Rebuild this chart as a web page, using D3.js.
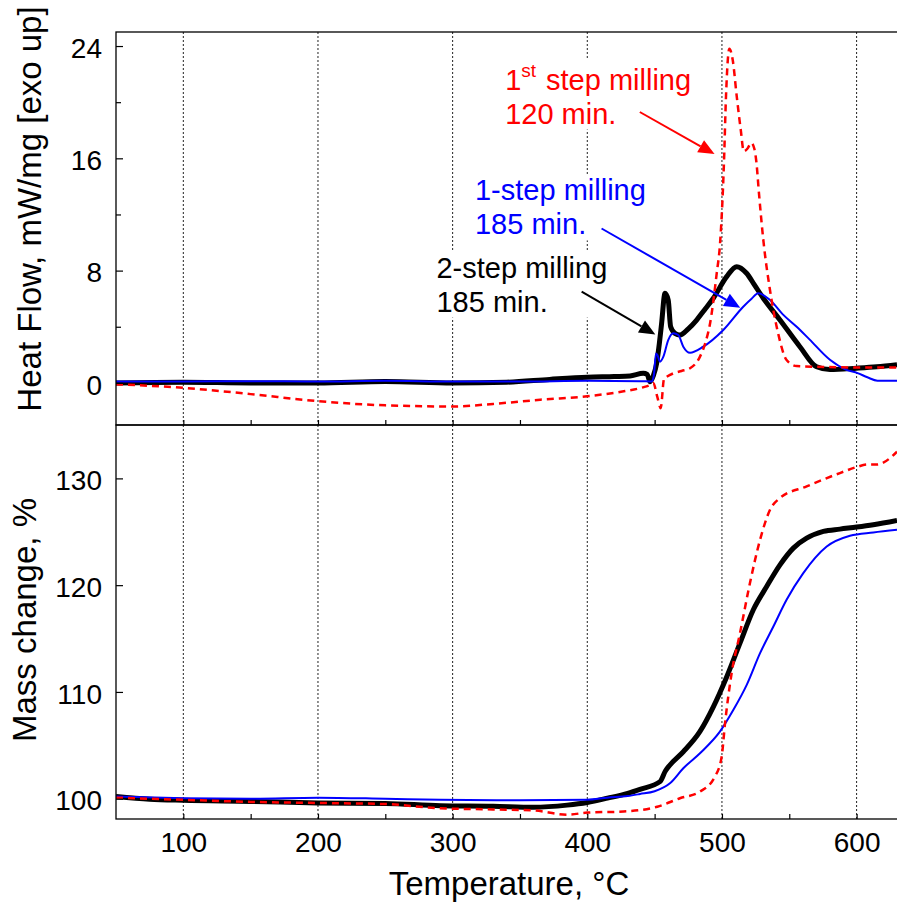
<!DOCTYPE html>
<html>
<head>
<meta charset="utf-8">
<script src="https://cdn.jsdelivr.net/npm/d3@7/dist/d3.min.js"></script>
<style>
  body { margin: 0; background: #fff; }
  text { font-family: "Liberation Sans", Arial, sans-serif; }
</style>
</head>
<body>
<div id="chart"></div>
<script>
// DSC (upper panel) — heat flow, mW/mg
const dscTempBlack = [50, 100, 150, 200, 250, 300, 340, 372, 400, 420, 431.7, 441.6, 444.5, 446.6, 449, 451.5, 453.5, 455.2, 457.7, 460.1, 461.9, 465.1, 468.8, 475, 481.2, 487, 493.6, 503.5, 510.9, 518.3, 524, 530.7, 543.1, 557.9, 570.3, 580.2, 600, 615, 630];
const dscBlack     = [0.0, 0.05, 0.0, 0.0, 0.1, 0.0, 0.05, 0.25, 0.4, 0.45, 0.49, 0.68, 0.6, 0.08, 0.5, 1.39, 2.8, 4.25, 6.38, 5.9, 4.0, 3.53, 3.41, 3.85, 4.48, 5.2, 6.03, 7.57, 8.28, 7.81, 7.0, 6.03, 4.48, 2.58, 1.15, 0.95, 1.05, 1.15, 1.3];

const dscTempBlue = [50, 100, 150, 200, 250, 300, 350, 400, 440, 447.8, 449.5, 451, 452, 454, 456.5, 460.1, 463.9, 467.6, 471.3, 476.3, 486.1, 501, 515.8, 522, 527, 535.7, 545, 555.5, 565, 580.2, 592, 600.7, 608, 615.5, 630];
const dscBlue     = [0.1, 0.1, 0.12, 0.1, 0.15, 0.1, 0.1, 0.15, 0.12, 0.1, 0.6, 2.1, 2.0, 1.51, 1.87, 3.05, 3.53, 3.41, 2.58, 2.15, 2.58, 3.77, 5.43, 6.0, 6.38, 5.9, 4.9, 4.0, 3.1, 1.65, 0.95, 0.7, 0.4, 0.16, 0.16];

const dscTempRed = [50, 100, 150, 200, 250, 300, 330, 365, 400, 427, 442, 446.6, 449, 452, 454.5, 457, 459, 463.9, 470, 476.3, 483.7, 487.5, 491.2, 496.1, 498.6, 501.5, 503, 505.5, 508, 511, 514, 516.2, 519, 521.8, 524, 525.5, 527.5, 530.7, 535.7, 541.8, 548, 555.5, 570, 600, 630];
const dscRed     = [-0.1, -0.35, -0.8, -1.3, -1.6, -1.68, -1.5, -1.2, -0.95, -0.6, -0.3, -0.15, 0.0, -1.0, -1.8, 0.3, 0.44, 0.68, 0.85, 1.04, 1.87, 2.8, 4.25, 7.8, 9.95, 15.7, 20.4, 23.8, 23.0, 20.4, 18.0, 16.5, 16.7, 17.1, 16.7, 15.8, 13.5, 10.2, 6.6, 3.5, 1.63, 1.2, 1.15, 1.1, 1.1];

// TG (lower panel) — mass change, %
const tgTempBlack = [50, 75, 100, 150, 200, 250, 291, 330, 360, 385, 400, 415, 430, 439.1, 454, 458, 461.4, 471.3, 483.7, 493.6, 503.5, 513.4, 523.3, 533.2, 543.1, 553, 562.9, 575.3, 587.6, 600, 612.4, 630];
const tgBlack     = [100.2, 99.95, 99.85, 99.75, 99.6, 99.55, 99.35, 99.3, 99.2, 99.4, 99.65, 100.05, 100.5, 100.88, 101.6, 102.6, 103.16, 104.4, 106.3, 108.6, 111.4, 114.57, 117.7, 119.87, 121.9, 123.47, 124.4, 125.03, 125.25, 125.44, 125.66, 126.06];

const tgTempBlue = [50, 100, 150, 200, 250, 291, 350, 400, 414.8, 430, 439.1, 450, 461.4, 471.3, 483.7, 498.6, 508.4, 518.4, 528.3, 538.1, 548, 560.4, 577.8, 595.1, 612.4, 630];
const tgBlue     = [100.2, 100.05, 100.0, 100.1, 100.0, 99.9, 99.85, 99.9, 100.1, 100.25, 100.44, 100.7, 101.44, 102.85, 104.26, 106.3, 108.3, 110.66, 113.63, 116.1, 118.63, 121.13, 123.62, 124.63, 124.94, 125.19];

const tgTempRed = [50, 100, 150, 200, 250, 291, 330, 360, 385, 400, 427, 452, 468.8, 483.7, 494.8, 499.8, 502.3, 507.2, 513.4, 520.8, 528.3, 535.7, 543.1, 562.9, 587.6, 600, 608, 615, 630];
const tgRed     = [100.1, 99.9, 99.7, 99.6, 99.5, 99.1, 99.0, 98.9, 98.5, 98.7, 98.8, 99.25, 100.04, 100.66, 102.07, 103.94, 107.07, 111.76, 115.5, 120.2, 124.25, 127.06, 128.16, 129.25, 130.5, 131.06, 131.3, 131.3, 132.5];

// ticks
const tempTicks  = [100, 150, 200, 250, 300, 350, 400, 450, 500, 550, 600];
const tempLabels = [100, 200, 300, 400, 500, 600];
const heatTicks  = [0, 8, 16, 24];
const heatMinor  = [4, 12, 20];
const massTicks  = [100, 110, 120, 130];

// annotations, in data units (T, heat flow)
const notes = [
    { color: '#ff0000', at: [339, 20.9], lines: ['1|st|step milling', '120 min.'], arrow: [[439, 19.3], [494.5, 16.3]] },
    { color: '#0000ff', at: [316.6, 13.0], lines: ['1-step milling', '185 min.'], arrow: [[410.6, 11.0], [513.6, 5.35]] },
    { color: '#000000', at: [288, 7.5], lines: ['2-step milling', '185 min.'], arrow: [[395.8, 6.5], [450.5, 3.45]] }
];

const W = 897, H = 902;
const pLeft = 116, pRight = 897, pTop = 32, pMid = 425, pBottom = 819;

const svg = d3.select('#chart').append('svg')
    .attr('width', W)
    .attr('height', H);

svg.append('rect').attr('width', W).attr('height', H).attr('fill', '#fff');

const x = d3.scaleLinear().domain([50, 630]).range([pLeft, pRight]);
const yTop = d3.scaleLinear().domain([-3, 25]).range([pMid, pTop]);
const yBot = d3.scaleLinear().domain([98.1, 135]).range([pBottom, pMid]);

// clip paths
const defs = svg.append('defs');
defs.append('clipPath').attr('id', 'clipTop').append('rect')
    .attr('x', pLeft).attr('y', pTop).attr('width', pRight - pLeft).attr('height', pMid - pTop);
defs.append('clipPath').attr('id', 'clipBot').append('rect')
    .attr('x', pLeft).attr('y', pMid).attr('width', pRight - pLeft).attr('height', pBottom - pMid);

// grid lines
function grid(y0, y1) {
    svg.append('g').selectAll('line')
        .data(tempLabels)
        .enter().append('line')
        .attr('x1', d => x(d)).attr('x2', d => x(d))
        .attr('y1', y0).attr('y2', y1)
        .attr('stroke', '#222')
        .attr('stroke-width', 1)
        .attr('stroke-dasharray', '2,2');
}
grid(pTop, pMid);
grid(pMid, pBottom);

// annotation texts (with white boxes that cover the grid)
const noteG = svg.append('g');
notes.forEach(n => {
    const g = noteG.append('g');
    const tx = x(n.at[0]);
    n.lines.forEach((line, i) => {
        const t = g.append('text')
            .attr('x', tx)
            .attr('y', yTop(n.at[1]) + i * 34)
            .attr('fill', n.color)
            .attr('font-size', 29);
        const parts = line.split('|');
        if (parts.length === 3) {
            t.append('tspan').text(parts[0]);
            t.append('tspan').attr('font-size', 19).attr('dy', -13).text(parts[1]);
            t.append('tspan').attr('dy', 13).attr('dx', 10).text(parts[2]);
        } else {
            t.text(line);
        }
    });
    const bb = g.node().getBBox();
    g.insert('rect', ':first-child')
        .attr('x', bb.x - 2).attr('y', bb.y)
        .attr('width', bb.width + 4).attr('height', bb.height)
        .attr('fill', '#fff');
});

// series
function drawLine(panel, y, temps, vals, color, w, dash) {
    const pts = temps.map((t, i) => [t, vals[i]]);
    const line = d3.line()
        .x(d => x(d[0]))
        .y(d => y(d[1]))
        .curve(d3.curveMonotoneX);
    svg.append('path')
        .datum(pts)
        .attr('clip-path', `url(#${panel})`)
        .attr('d', line)
        .attr('fill', 'none')
        .attr('stroke', color)
        .attr('stroke-width', w)
        .attr('stroke-linejoin', 'round')
        .attr('stroke-dasharray', dash || null);
}

drawLine('clipTop', yTop, dscTempBlack, dscBlack, '#000', 5);
drawLine('clipTop', yTop, dscTempBlue, dscBlue, '#0000ff', 2);
drawLine('clipTop', yTop, dscTempRed, dscRed, '#ff0000', 2.5, '7,5');

drawLine('clipBot', yBot, tgTempBlack, tgBlack, '#000', 5);
drawLine('clipBot', yBot, tgTempBlue, tgBlue, '#0000ff', 2);
drawLine('clipBot', yBot, tgTempRed, tgRed, '#ff0000', 2.5, '7,5');

// arrows
notes.forEach(n => {
    const p0 = [x(n.arrow[0][0]), yTop(n.arrow[0][1])];
    const p1 = [x(n.arrow[1][0]), yTop(n.arrow[1][1])];
    const dx = p1[0] - p0[0], dy = p1[1] - p0[1];
    const len = Math.hypot(dx, dy);
    const ux = dx / len, uy = dy / len;
    const headL = 16, headW = 7;
    const bx = p1[0] - ux * headL, by = p1[1] - uy * headL;
    svg.append('line')
        .attr('x1', p0[0]).attr('y1', p0[1])
        .attr('x2', bx).attr('y2', by)
        .attr('stroke', n.color)
        .attr('stroke-width', 2);
    svg.append('path')
        .attr('d', `M${p1[0]},${p1[1]}L${bx - uy * headW},${by + ux * headW}L${bx + uy * headW},${by - ux * headW}Z`)
        .attr('fill', n.color);
});

// frames
[[pTop, pMid], [pMid, pBottom]].forEach(([a, b]) => {
    svg.append('rect')
        .attr('x', pLeft).attr('y', a)
        .attr('width', pRight - pLeft + 10).attr('height', b - a)
        .attr('fill', 'none')
        .attr('stroke', '#000')
        .attr('stroke-width', 1.3);
});

// axes
function styleAxis(g) {
    g.select('.domain').remove();
    g.selectAll('line').attr('stroke', '#000').attr('stroke-width', 1.2);
    g.selectAll('text').attr('font-size', 28).attr('fill', '#000')
        .attr('font-family', '"Liberation Sans", Arial, sans-serif');
}

svg.append('g')
    .attr('transform', `translate(${pLeft},0)`)
    .call(d3.axisLeft(yTop).tickValues(heatTicks).tickSize(-7).tickPadding(14))
    .call(styleAxis)
    .call(g => g.selectAll('text').attr('dy', '0.4em'));

svg.append('g')
    .attr('transform', `translate(${pLeft},0)`)
    .call(d3.axisLeft(yTop).tickValues(heatMinor).tickSize(-5).tickFormat(''))
    .call(styleAxis);

svg.append('g')
    .attr('transform', `translate(${pLeft},0)`)
    .call(d3.axisLeft(yBot).tickValues(massTicks).tickSize(-7).tickPadding(14))
    .call(styleAxis)
    .call(g => g.selectAll('text').attr('dy', '0.4em'));

svg.append('g')
    .attr('transform', `translate(0,${pMid})`)
    .call(d3.axisBottom(x).tickValues(tempTicks).tickSize(-5).tickFormat(''))
    .call(styleAxis);

svg.append('g')
    .attr('transform', `translate(0,${pBottom})`)
    .call(d3.axisBottom(x).tickValues(tempTicks).tickSize(-5).tickPadding(13)
        .tickFormat(d => tempLabels.includes(d) ? d : ''))
    .call(styleAxis);

// axis titles
svg.append('text')
    .attr('transform', `translate(41,209) rotate(-90)`)
    .attr('text-anchor', 'middle')
    .attr('font-size', 33)
    .text('Heat Flow, mW/mg [exo up]');

svg.append('text')
    .attr('transform', `translate(36,620) rotate(-90)`)
    .attr('text-anchor', 'middle')
    .attr('font-size', 33)
    .text('Mass change, %');

svg.append('text')
    .attr('x', 509).attr('y', 895)
    .attr('text-anchor', 'middle')
    .attr('font-size', 33)
    .text('Temperature, °C');
</script>
</body>
</html>
